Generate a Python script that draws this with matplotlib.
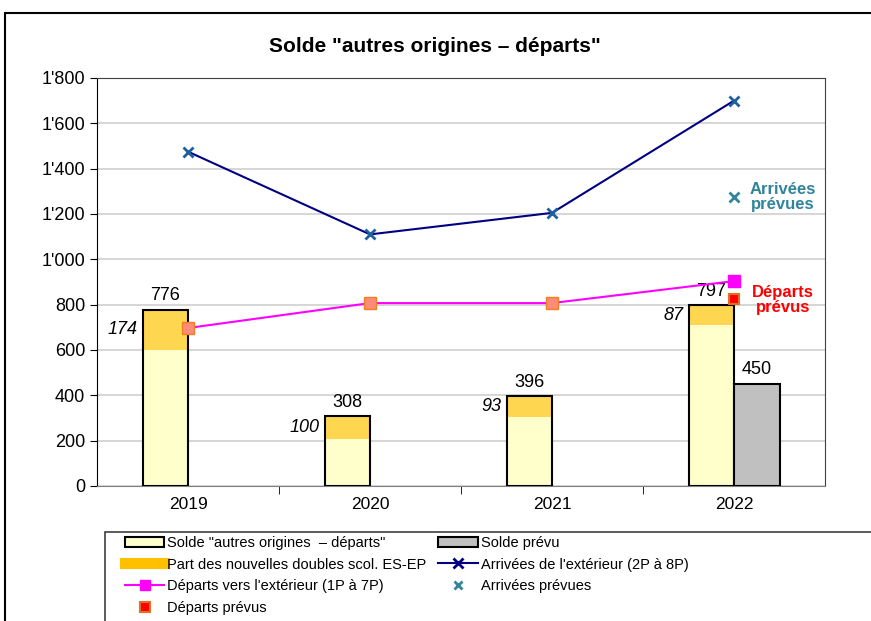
import matplotlib
matplotlib.use('Agg')
import matplotlib.pyplot as plt
from matplotlib.patches import Patch, Rectangle
from matplotlib.lines import Line2D
from matplotlib.ticker import FuncFormatter
import numpy as np

plt.rcParams['font.family'] = ['Liberation Sans', 'DejaVu Sans']

years = ['2019', '2020', '2021', '2022']
solde = [776, 308, 396, 797]
part_doubles = [174, 100, 93, 87]
solde_prevu = 450
arrivees = [1475, 1110, 1205, 1700]
departs = [697, 807, 807, 904]
arrivees_prevues = 1275
departs_prevus = 825

x = np.arange(len(years))
w = 0.25
base = [s - p for s, p in zip(solde, part_doubles)]

fig = plt.figure(figsize=(8.71, 6.21), dpi=100)
ax = fig.add_axes([97 / 871, 1 - 486 / 621, 728 / 871, 408 / 621])

# outer frame + legend frame
fig.patches.append(Rectangle((5 / 871, -0.1), 1.2, 1 - 13 / 621 + 0.1, transform=fig.transFigure,
                             fill=False, edgecolor='black', lw=1.5))
fig.patches.append(Rectangle((105 / 871, -0.1), 1.2, 1 - 532 / 621 + 0.1, transform=fig.transFigure,
                             fill=False, edgecolor='#404040', lw=1.2))

ax.bar(x - w / 2, base, w, color='#FFFFCC', edgecolor='none', zorder=2)
ax.bar(x - w / 2, part_doubles, w, bottom=base, color='#FFD650', edgecolor='none', zorder=2)
ax.bar(x - w / 2, solde, w, fill=False, edgecolor='black', lw=1.5, zorder=3)
ax.bar(x[3] + w / 2, solde_prevu, w, color='#C0C0C0', edgecolor='black', lw=1.5, zorder=3)

ax.plot(x, arrivees, color='#000080', lw=1.5, zorder=4)
ax.plot(x, arrivees, ls='none', marker='x', ms=7, mew=2, color='#1F5F9F', zorder=5)
ax.plot(x, departs, color='#FF00FF', lw=1.5, zorder=4)
ax.plot(x[:3], departs[:3], ls='none', marker='s', ms=8, mfc='#FF8C78', mec='#F08020', zorder=5)
ax.plot(x[3], departs[3], ls='none', marker='s', ms=8, color='#FF00FF', zorder=5)
ax.plot(x[3], arrivees_prevues, ls='none', marker='x', ms=7, mew=2, color='#31849B', zorder=5)
ax.plot(x[3], departs_prevus, ls='none', marker='s', ms=7, mfc='#FF0000', mec='#E07020', mew=1.5, zorder=5)

for i in range(len(years)):
    ax.text(x[i] - w / 2, solde[i] + 25, str(solde[i]), ha='center', va='bottom', fontsize=13)
    ax.text(x[i] - w - 0.03, base[i] + part_doubles[i] / 2, str(part_doubles[i]),
            ha='right', va='center', fontsize=13, style='italic')
ax.text(x[3] + w / 2, solde_prevu + 28, str(solde_prevu), ha='center', va='bottom', fontsize=13)

ax.text(x[3] + 0.27, arrivees_prevues, 'Arrivées\nprévues', color='#31849B', fontweight='bold',
        fontsize=12, ha='center', va='center', linespacing=0.95)
ax.text(x[3] + 0.27, departs_prevus - 5, 'Départs\nprévus', color='#FF0000', fontweight='bold',
        fontsize=12, ha='center', va='center', linespacing=0.95)

ax.set_xlim(-0.5, 3.5)
ax.set_ylim(0, 1800)
ax.set_yticks(np.arange(0, 1801, 200))
ax.yaxis.set_major_formatter(FuncFormatter(lambda v, p: f"{int(v):,}".replace(',', "'")))
ax.set_xticks(x)
ax.set_xticklabels(years)
ax.set_xticks(np.arange(0.5, 3.5, 1), minor=True)
ax.tick_params(axis='x', which='major', length=0, labelsize=12.5, pad=8)
ax.tick_params(axis='x', which='minor', length=6, direction='out')
ax.tick_params(axis='y', length=5, direction='out', labelsize=13)
ax.grid(axis='y', color='#D0D0D0', lw=1.2, zorder=0)
ax.set_axisbelow(True)
for s in ['top', 'right']:
    ax.spines[s].set_color('#404040')
ax.spines['bottom'].set_color('#808080')

fig.text(435 / 871, 1 - 46 / 621, 'Solde "autres origines – départs"', ha='center', va='center',
         fontsize=15, fontweight='bold')

handles = [
    Patch(facecolor='#FFFFCC', edgecolor='black', lw=1.5),
    Line2D([], [], color='#FFC000', lw=8),
    Line2D([], [], color='#FF00FF', marker='s', ms=7, lw=1.5),
    Line2D([], [], ls='none', marker='s', ms=7, mfc='#FF0000', mec='#E07020', mew=1.5),
    Patch(facecolor='#C0C0C0', edgecolor='black', lw=1.5),
    Line2D([], [], color='#000080', marker='x', ms=7, mew=2, lw=1.5),
    Line2D([], [], ls='none', marker='x', ms=6, mew=2, color='#31849B'),
]
labels = [
    'Solde "autres origines  – départs"',
    'Part des nouvelles doubles scol. ES-EP',
    "Départs vers l'extérieur (1P à 7P)",
    'Départs prévus',
    'Solde prévu',
    "Arrivées de l'extérieur (2P à 8P)",
    'Arrivées prévues',
]
leg = fig.legend(handles, labels, ncol=2, loc='upper left',
                 bbox_to_anchor=(125 / 871, 1 - 536 / 621), fontsize=10.5, frameon=False,
                 handlelength=2.7, handletextpad=0.2, borderpad=0, borderaxespad=0,
                 columnspacing=0.8, labelspacing=0.52)

fig.savefig('out.png', dpi=100)
